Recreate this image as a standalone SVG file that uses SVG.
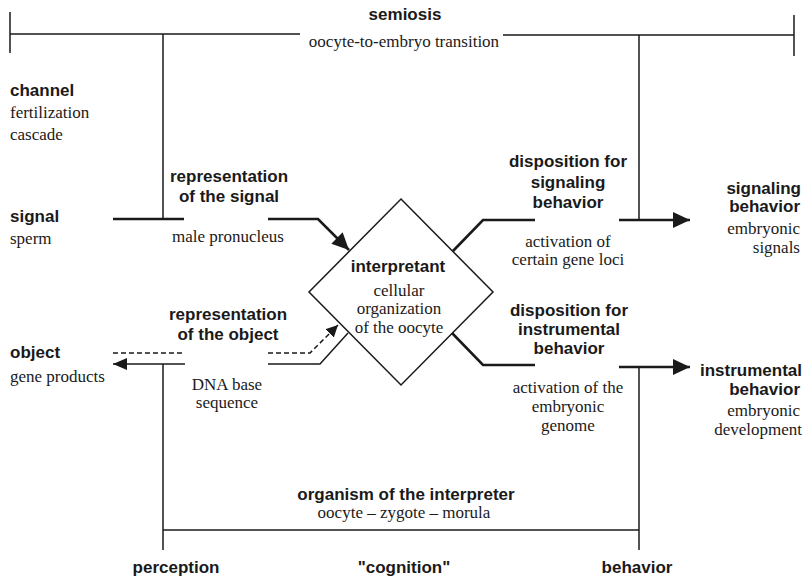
<svg xmlns="http://www.w3.org/2000/svg" width="805" height="578" viewBox="0 0 805 578">
  <style>
    .b { font-family: "Liberation Sans", Arial, sans-serif; font-weight: bold; font-size: 17px; fill: #1a1a1a; }
    .s { font-family: "Liberation Serif", "Times New Roman", serif; font-size: 17px; fill: #1a1a1a; }
    .m { text-anchor: middle; }
    .e { text-anchor: end; }
    .ln { fill: none; stroke: #1a1a1a; stroke-width: 1.5; }
    .tk { fill: none; stroke: #1a1a1a; stroke-width: 2.6; }
    .ds { fill: none; stroke: #1a1a1a; stroke-width: 1.5; stroke-dasharray: 5 3; }
  </style>
  <defs>
    <marker id="ah" markerUnits="userSpaceOnUse" markerWidth="18" markerHeight="16" refX="17" refY="8" orient="auto">
      <path d="M0,0 L17,8 L0,16 Z" fill="#1a1a1a"/>
    </marker>
    <marker id="ahs" markerUnits="userSpaceOnUse" markerWidth="15" markerHeight="12" refX="14" refY="6" orient="auto">
      <path d="M0,0 L14,6 L0,12 Z" fill="#1a1a1a"/>
    </marker>
    <marker id="ahd" markerUnits="userSpaceOnUse" markerWidth="13" markerHeight="12" refX="12" refY="6" orient="auto">
      <path d="M0,0 L12,6 L0,12 Z" fill="#1a1a1a"/>
    </marker>
  </defs>

  <rect width="805" height="578" fill="#ffffff"/>

  <!-- connectors -->
  <g id="connectors">
    <!-- semiosis bar -->
    <path class="ln" d="M10,12 V53 M10,34 H300"/>
    <path class="ln" d="M503,35 H794 M794,15 V56"/>
    <path class="ln" d="M163,34 V219"/>
    <path class="ln" d="M639,35 V220"/>
    <!-- signal -->
    <path class="tk" d="M113,219 H184"/>
    <path class="tk" d="M268,219 H318 L349,250" marker-end="url(#ah)"/>
    <!-- signaling disposition -->
    <path class="tk" d="M453,251 L483,220 H535"/>
    <path class="tk" d="M619,220 H690" marker-end="url(#ah)"/>
    <!-- object -->
    <path class="ds" d="M113,353 H185"/>
    <path class="ln" d="M185,364 H113" marker-end="url(#ahs)"/>
    <path class="ds" d="M268,353 H310 L338,325" marker-end="url(#ahd)"/>
    <path class="ln" d="M268,364 H320 L348,333"/>
    <!-- instrumental disposition -->
    <path class="tk" d="M452,333 L483,365 H535"/>
    <path class="tk" d="M619,367 H690" marker-end="url(#ah)"/>
    <!-- organism bar -->
    <path class="ln" d="M163,364 V550"/>
    <path class="ln" d="M639,367 V550"/>
    <path class="ln" d="M163,530 H639"/>
  </g>

  <g id="semiosis">
    <text class="b m" x="405" y="20">semiosis</text>
    <text class="s m" x="404" y="47">oocyte-to-embryo transition</text>
  </g>

  <g id="channel">
    <text class="b" x="10" y="96">channel</text>
    <text class="s" x="10" y="118">fertilization</text>
    <text class="s" x="10" y="140">cascade</text>
  </g>

  <g id="signal">
    <text class="b" x="10" y="222">signal</text>
    <text class="s" x="10" y="244">sperm</text>
  </g>

  <g id="representation-signal">
    <text class="b m" x="229" y="182">representation</text>
    <text class="b m" x="229" y="202">of the signal</text>
    <text class="s m" x="228" y="242">male pronucleus</text>
  </g>

  <g id="interpretant">
    <polygon points="401,199 493,292 401,385 309,292" fill="none" stroke="#1a1a1a" stroke-width="1.5"/>
    <text class="b m" x="398" y="272">interpretant</text>
    <text class="s m" x="399" y="296">cellular</text>
    <text class="s m" x="399" y="314">organization</text>
    <text class="s m" x="399" y="333">of the oocyte</text>
  </g>

  <g id="disposition-signaling">
    <text class="b m" x="568" y="167">disposition for</text>
    <text class="b m" x="568" y="188">signaling</text>
    <text class="b m" x="568" y="208">behavior</text>
    <text class="s m" x="568" y="247">activation of</text>
    <text class="s m" x="568" y="265">certain gene loci</text>
  </g>

  <g id="signaling-behavior">
    <text class="b e" x="801" y="194">signaling</text>
    <text class="b e" x="800" y="212">behavior</text>
    <text class="s e" x="800" y="234">embryonic</text>
    <text class="s e" x="800" y="253">signals</text>
  </g>

  <g id="object">
    <text class="b" x="10" y="358">object</text>
    <text class="s" x="10" y="382">gene products</text>
  </g>

  <g id="representation-object">
    <text class="b m" x="228" y="320">representation</text>
    <text class="b m" x="228" y="340">of the object</text>
    <text class="s m" x="227" y="390">DNA base</text>
    <text class="s m" x="227" y="408">sequence</text>
  </g>

  <g id="disposition-instrumental">
    <text class="b m" x="569" y="316">disposition for</text>
    <text class="b m" x="569" y="335">instrumental</text>
    <text class="b m" x="569" y="354">behavior</text>
    <text class="s m" x="568" y="393">activation of the</text>
    <text class="s m" x="568" y="412">embryonic</text>
    <text class="s m" x="568" y="431">genome</text>
  </g>

  <g id="instrumental-behavior">
    <text class="b e" x="802" y="376">instrumental</text>
    <text class="b e" x="800" y="395">behavior</text>
    <text class="s e" x="800" y="416">embryonic</text>
    <text class="s e" x="802" y="435">development</text>
  </g>

  <g id="organism">
    <text class="b m" x="406" y="500">organism of the interpreter</text>
    <text class="s m" x="404" y="518">oocyte – zygote – morula</text>
  </g>

  <g id="perception">
    <text class="b m" x="176" y="573">perception</text>
  </g>
  <g id="cognition">
    <text class="b m" x="404" y="573">"cognition"</text>
  </g>
  <g id="behavior">
    <text class="b m" x="637" y="573">behavior</text>
  </g>
</svg>
